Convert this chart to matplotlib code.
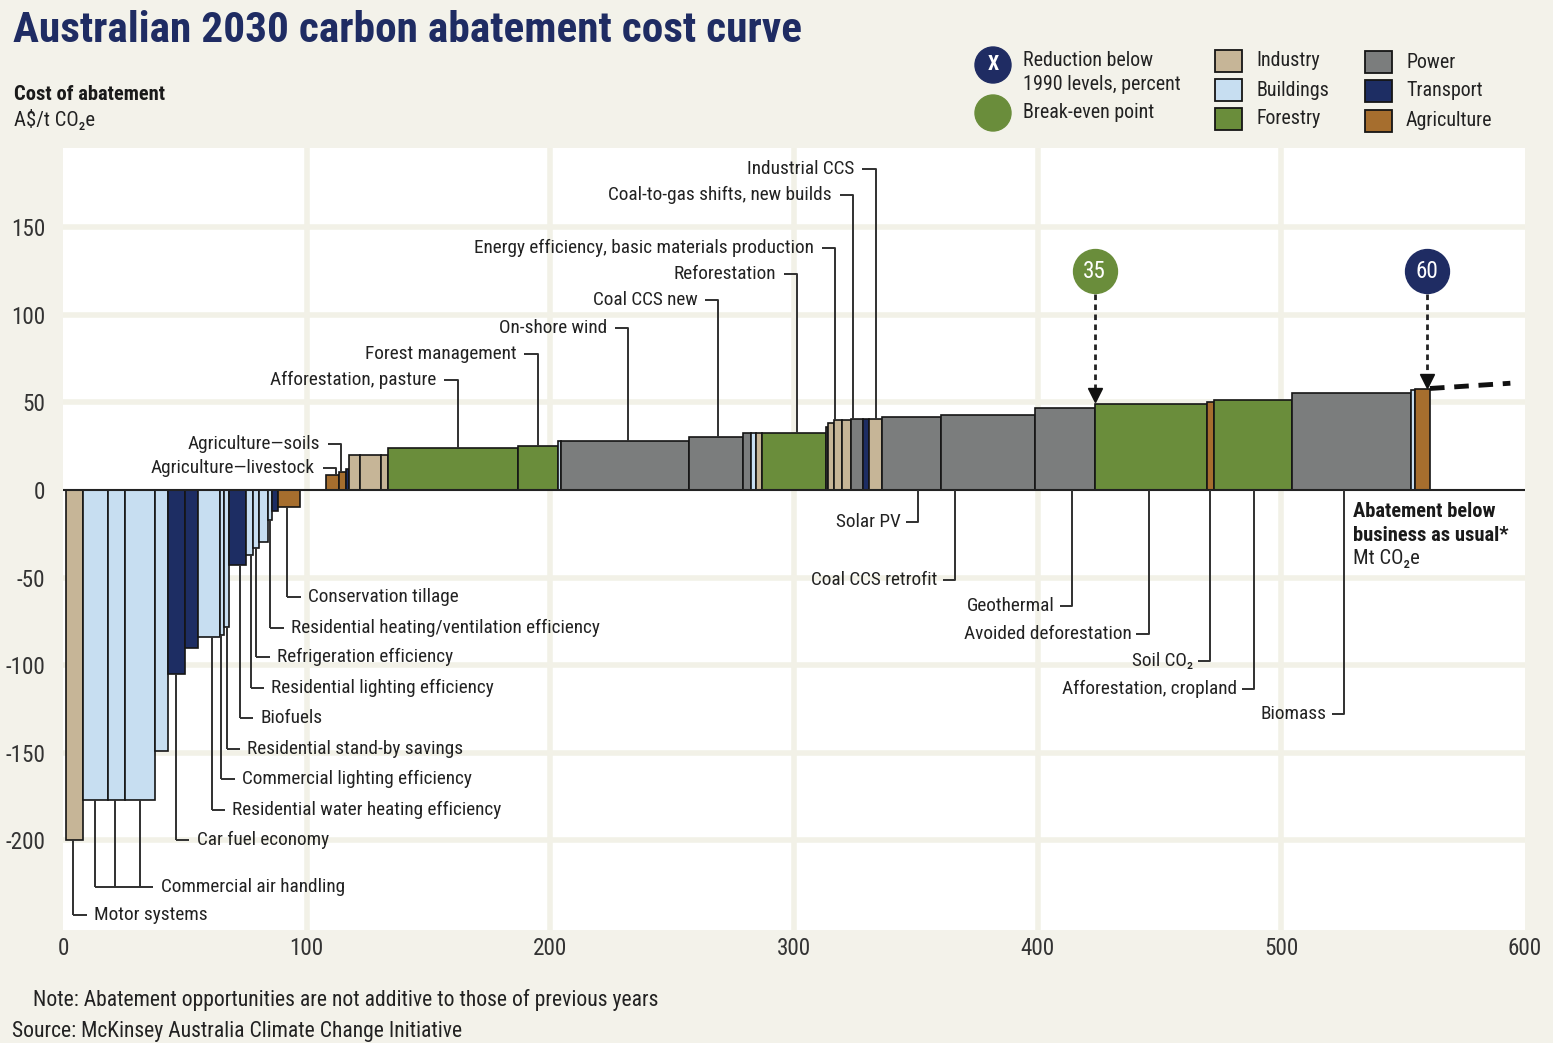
import numpy as np
import matplotlib.pyplot as plt
from matplotlib.patches import Circle, Rectangle
from matplotlib.font_manager import fontManager, FontProperties
from matplotlib.textpath import TextToPath

W, H = 1553, 1043

# ------------------------------------------------------------------
# data
sectors = ['Industry', 'Buildings', 'Forestry', 'Power', 'Transport', 'Agriculture']
sector_colors = ['#c6b597', '#c7def1', '#6a8d3b', '#7b7d7d', '#1d2d63', '#a66e2e']

# left edge / width in Mt CO2e, cost in A$/t CO2e
bar_left = [1.2, 8.4, 18.6, 25.4, 37.7, 43.2, 50.0, 55.5, 64.3, 66.2,
            68.2, 75.0, 78.0, 80.5, 84.1, 85.8, 88.2,
            107.8, 113.2, 116.3, 117.2, 121.7, 130.6, 133.3, 186.8, 203.0,
            204.4, 257.0, 279.0, 282.3, 284.3, 287.0, 313.0, 313.8, 316.4,
            319.8, 323.2, 328.5, 330.7, 336.2, 360.3, 399.0, 423.4, 469.4,
            472.5, 504.2, 553.4, 555.0]
bar_width = [7.2, 10.2, 6.8, 12.3, 5.5, 6.8, 5.5, 8.8, 1.9, 2.0,
             6.8, 3.0, 2.5, 3.6, 1.7, 2.4, 9.2,
             5.4, 3.1, 0.9, 4.5, 8.9, 2.7, 53.5, 16.2, 1.4,
             52.6, 22.0, 3.3, 2.0, 2.7, 26.0, 0.8, 2.6, 3.4,
             3.4, 5.3, 2.2, 5.5, 24.1, 38.7, 24.4, 46.0, 3.1,
             31.7, 49.2, 1.6, 6.0]
bar_cost = [-200, -177, -177, -177, -149, -105, -90, -84, -83, -78,
            -43, -37, -33, -29.5, -17, -12, -9.5,
            8.5, 10.5, 12, 20, 20, 20, 23.8, 25.2, 28,
            28.2, 30.5, 32.6, 32.7, 32.8, 32.6, 36, 38.5, 40,
            40, 40.6, 40.6, 40.6, 41.9, 43, 46.9, 49.1, 50.5,
            51.4, 55.6, 57, 57.5]
bar_sector = ['Industry', 'Buildings', 'Buildings', 'Buildings', 'Buildings',
              'Transport', 'Transport', 'Buildings', 'Buildings', 'Buildings',
              'Transport', 'Buildings', 'Buildings', 'Buildings', 'Buildings',
              'Transport', 'Agriculture',
              'Agriculture', 'Agriculture', 'Transport', 'Industry', 'Industry',
              'Industry', 'Forestry', 'Forestry', 'Buildings',
              'Power', 'Power', 'Power', 'Buildings', 'Industry', 'Forestry',
              'Power', 'Industry', 'Industry',
              'Industry', 'Power', 'Transport', 'Industry', 'Power', 'Power',
              'Power', 'Forestry', 'Agriculture',
              'Forestry', 'Power', 'Buildings', 'Agriculture']

# reduction below 1990 levels (percent) and where it is reached
milestone_x = [423.4, 559.6]
milestone_pct = ['35', '60']

# continuation of the curve beyond the last lever
trend_x = [561, 594]
trend_y = [58, 61]

# callouts above the curve (text left of leader)
above_labels = ['Agriculture\u2014livestock', 'Agriculture\u2014soils',
                'Afforestation, pasture', 'Forest management', 'On-shore wind',
                'Coal CCS new', 'Reforestation',
                'Energy efficiency, basic materials production',
                'Coal-to-gas shifts, new builds', 'Industrial CCS']
above_x = [112, 114.2, 162, 194.8, 232, 269, 301.4, 317, 324.2, 333.5]
above_y = [12.6, 26.3, 62.9, 77.7, 92.6, 108.6, 123.4, 138.3, 168.6, 183.4]

# callouts under the negative bars (text right of leader)
neg_labels = ['Motor systems', 'Commercial air handling', 'Car fuel economy',
              'Residential water heating efficiency',
              'Commercial lighting efficiency', 'Residential stand-by savings',
              'Biofuels', 'Residential lighting efficiency',
              'Refrigeration efficiency',
              'Residential heating/ventilation efficiency',
              'Conservation tillage']
neg_x = [[4.2], [13.1, 21.3, 31.6], [46.3], [61], [65], [67.2], [72.5],
         [77], [79.4], [85], [92]]
neg_y = [-242.9, -226.9, -200, -182.9, -165, -148, -130.3, -113, -95.4,
         -78.9, -61.1]

# callouts below the axis for positive bars (text left of leader)
below_labels = ['Solar PV', 'Coal CCS retrofit', 'Geothermal',
                'Avoided deforestation', 'Soil CO\u2082',
                'Afforestation, cropland', 'Biomass']
below_x = [351, 366, 414, 445.5, 470.7, 488.7, 525.7]
below_y = [-18.3, -51.4, -66.3, -82.3, -97.7, -113.7, -128]

yticks = [150, 100, 50, 0, -50, -100, -150, -200]
xticks = [0, 100, 200, 300, 400, 500, 600]

title = 'Australian 2030 carbon abatement cost curve'
note = 'Note: Abatement opportunities are not additive to those of previous years'
source = 'Source: McKinsey Australia Climate Change Initiative'

# ------------------------------------------------------------------
# pick a narrow face if one is installed, else a plain sans
fl = fontManager.ttflist
names = {f.name for f in fl}
family, stretch = 'Liberation Sans', 'normal'
for c in ['Liberation Sans Narrow', 'Roboto Condensed', 'Open Sans Condensed',
          'DejaVu Sans Condensed', 'Noto Sans Condensed', 'Arial Narrow']:
    if c in names:
        family = c
        break
else:
    cond = [f for f in fl if f.name in ('Roboto', 'Noto Sans', 'Open Sans', 'DejaVu Sans')
            and str(f.stretch) in ('condensed', 'semi-condensed', '500', '375')]
    if cond:
        family, stretch = cond[0].name, cond[0].stretch

plt.rcParams['font.family'] = [family, 'DejaVu Sans']
plt.rcParams['font.stretch'] = stretch
plt.rcParams['axes.unicode_minus'] = False

t2p = TextToPath()


def size_for(s, target_px, weight='normal'):
    # font size (pt) that makes s about target_px wide at 100 dpi
    fp = FontProperties(family=[family, 'DejaVu Sans'], weight=weight,
                        stretch=stretch, size=10)
    w = t2p.get_text_width_height_descent(s, fp, ismath=False)[0]
    return 10 * target_px / (w * 100 / 72)


fs_lab = size_for('Energy efficiency, basic materials production', 340)
fs_title = size_for(title, 791, 'black')
fs_leg = size_for('1990 levels, percent', 158)
fs_note = size_for(note, 625)
fs_tick = size_for('-200', 40)
fs_cost = size_for('Cost of abatement', 151, 'bold')
fs_unit = size_for('A$/t CO\u2082e', 81)
fs_bau = size_for('business as usual*', 155, 'bold')

bg = '#f3f2ea'
navy = '#1f2c63'
txt = '#222222'
col = dict(zip(sectors, sector_colors))


def cost_at(x):
    for l, w, c in zip(bar_left, bar_width, bar_cost):
        if l <= x < l + w:
            return c
    return 0


fig = plt.figure(figsize=(W / 100, H / 100), dpi=100, facecolor=bg)
ax = fig.add_axes([63 / W, 1 - 930 / H, (1525 - 63) / W, (930 - 148) / H])
ax.set_facecolor('white')
ax.set_xlim(0, 600)
ax.set_ylim(-251.4, 195.4)
for s in ax.spines.values():
    s.set_visible(False)

# gridlines look like cream gutters between white panels
for y in yticks:
    if y != 0:
        ax.axhline(y, color='#f2f1e7', lw=4.0, zorder=0)
for x in xticks[1:-1]:
    ax.axvline(x, color='#f2f1e7', lw=4.0, zorder=0)

ax.bar(bar_left, bar_cost, bar_width, align='edge',
       color=[col[s] for s in bar_sector], edgecolor='#151515',
       linewidth=1.2, zorder=2)
ax.axhline(0, color='#222222', lw=1.5, zorder=3)

ax.set_yticks(yticks)
ax.set_yticklabels([str(v) for v in yticks])
ax.set_xticks(xticks)
ax.set_xticklabels([str(v) for v in xticks])
ax.tick_params(axis='y', length=0, pad=13, labelsize=fs_tick, labelcolor='#333333')
ax.tick_params(axis='x', length=0, pad=5, labelsize=fs_tick, labelcolor='#333333')

lk = dict(color='#303030', lw=1.4, zorder=4, solid_capstyle='butt')

for lab, lx, ly in zip(above_labels, above_x, above_y):
    ax.plot([lx - 5.5, lx, lx], [ly, ly, cost_at(lx)], **lk)
    ax.text(lx - 8.7, ly, lab, ha='right', va='center', fontsize=fs_lab, color=txt)

for lab, lxs, ly in zip(neg_labels, neg_x, neg_y):
    for lx in lxs:
        ax.plot([lx, lx], [cost_at(lx), ly], **lk)
    ax.plot([min(lxs), max(lxs) + 5.5], [ly, ly], **lk)
    ax.text(max(lxs) + 8.5, ly, lab, ha='left', va='center', fontsize=fs_lab, color=txt)

for lab, lx, ly in zip(below_labels, below_x, below_y):
    ax.plot([lx, lx, lx - 5], [0, ly, ly], **lk)
    ax.text(lx - 7, ly, lab, ha='right', va='center', fontsize=fs_lab, color=txt)

# reduction markers with dashed arrows
for mx, pct, mc in zip(milestone_x, milestone_pct, ['#6a8d3b', navy]):
    tip = cost_at(mx) + 3
    ax.plot([mx, mx], [112, tip + 4], color='#222222', lw=2,
            ls=(0, (2, 1.6)), zorder=5)
    ax.plot(mx, tip + 2, marker='v', ms=10, color='#111111', zorder=5)
    ax.scatter([mx], [125], s=1000, color=mc, zorder=6)
    ax.text(mx, 125, pct, ha='center', va='center', fontsize=fs_tick,
            color='white', zorder=7)

ax.plot(trend_x, trend_y, color='#111111', lw=3.5, ls=(0, (3, 2)), zorder=4)

ax.text(529.5, -12.5, 'Abatement below', fontsize=fs_bau, fontweight='bold',
        color='#1a1a1a', va='center')
ax.text(529.5, -25.8, 'business as usual*', fontsize=fs_bau, fontweight='bold',
        color='#1a1a1a', va='center')
ax.text(529.5, -39, 'Mt CO\u2082e', fontsize=fs_unit, color=txt, va='center')

# ------------------------------------------------------------------
# titles, legend and notes in pixel coordinates
lax = fig.add_axes([0, 0, 1, 1], facecolor='none')
lax.set_xlim(0, W)
lax.set_ylim(H, 0)
lax.axis('off')

lax.text(13, 30, title, fontsize=fs_title, fontweight='black', color=navy,
         va='center')
lax.text(14, 95, 'Cost of abatement', fontsize=fs_cost, fontweight='bold',
         color='#1a1a1a', va='center')
lax.text(14, 119, 'A$/t CO\u2082e', fontsize=fs_unit, color=txt, va='center',
         parse_math=False)

lax.add_patch(Circle((993, 65), 18, color=navy))
lax.text(993, 65, 'X', ha='center', va='center', fontsize=fs_leg,
         fontweight='bold', color='white')
lax.add_patch(Circle((993, 113), 18, color='#6a8d3b'))
lax.text(1023, 61, 'Reduction below', fontsize=fs_leg, color=txt, va='center')
lax.text(1023, 85, '1990 levels, percent', fontsize=fs_leg, color=txt, va='center')
lax.text(1023, 113, 'Break-even point', fontsize=fs_leg, color=txt, va='center')

leg_pos = [(1215, 61), (1215, 90), (1215, 119),
           (1365, 62), (1365, 91), (1365, 121)]
for (px, py), name in zip(leg_pos, sectors):
    lax.add_patch(Rectangle((px, py - 11), 27, 22, facecolor=col[name],
                            edgecolor='#151515', lw=1.3))
    lax.text(px + 41, py, name, fontsize=fs_leg, color=txt, va='center')

lax.text(33, 1000, note, fontsize=fs_note, color=txt, va='center')
lax.text(12, 1031, source, fontsize=fs_note, color=txt, va='center')

fig.savefig('out.png', dpi=100, facecolor=bg)
